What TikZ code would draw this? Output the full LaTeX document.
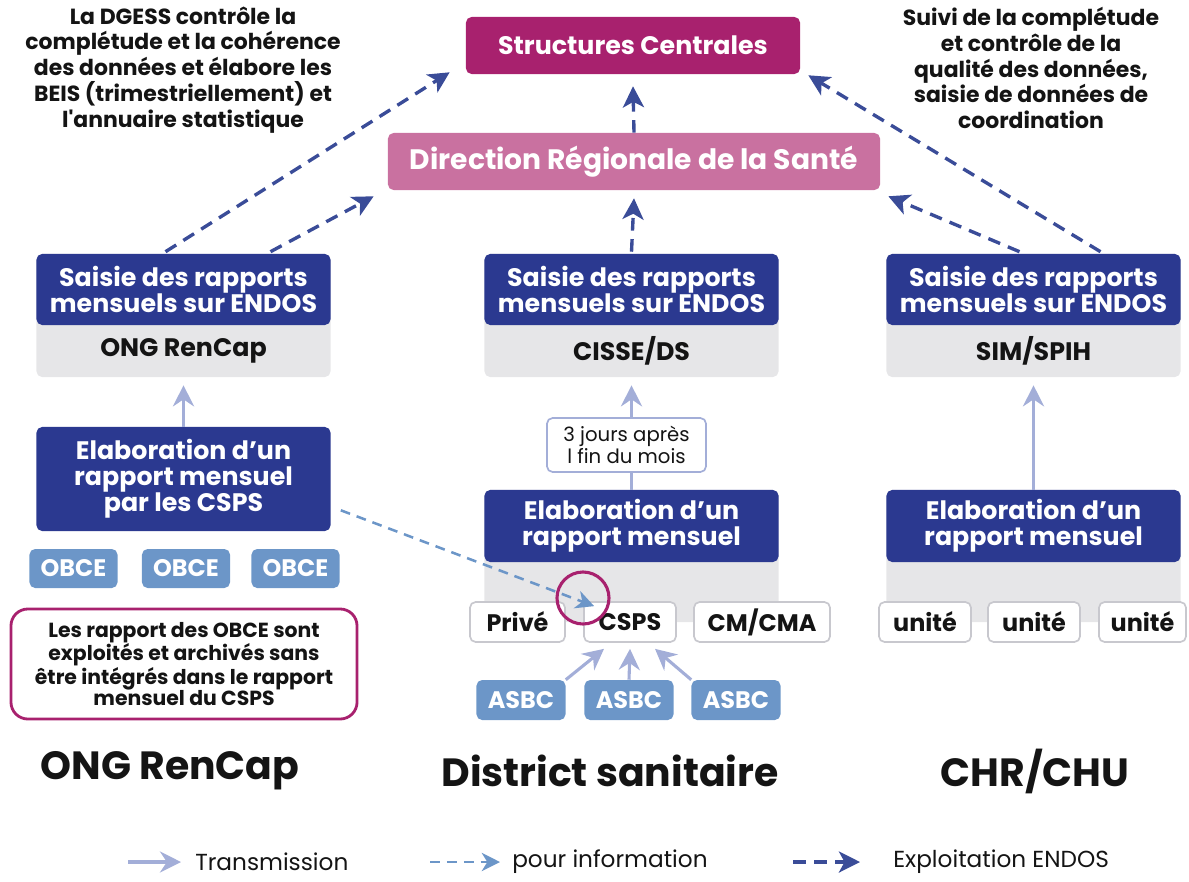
\documentclass[tikz,border=0pt]{standalone}
\usepackage{fontspec}
\setmainfont{Poppins}
\usetikzlibrary{arrows.meta,calc,positioning}
\definecolor{navy}{RGB}{43, 57, 144}
\definecolor{plum}{RGB}{168, 33, 110}
\definecolor{rose}{RGB}{201, 113, 160}
\definecolor{shade}{RGB}{230, 230, 232}
\definecolor{steel}{RGB}{108, 150, 200}
\definecolor{lavender}{RGB}{163, 174, 216}
\definecolor{slate}{RGB}{58, 76, 152}
\definecolor{rim}{RGB}{200, 200, 206}
\definecolor{ink}{RGB}{20, 20, 20}

\begin{document}
\begin{tikzpicture}[
        x=0.025cm, y=-0.025cm,
        every node/.style={font=\fontsize{18}{18.5}\selectfont\bfseries, text=ink, align=center, inner sep=0pt, rounded corners=4pt},
        central/.style={fill=plum, text=white, minimum width=8.35cm, minimum height=1.425cm},
        regional/.style={fill=rose, text=white, minimum width=12.3cm, minimum height=1.425cm, font=\fontsize{20}{22}\selectfont\bfseries},
        shade box/.style={fill=shade, minimum width=7.35cm},
        navy box/.style={fill=navy, text=white, minimum width=7.35cm, anchor=north},
        agent/.style={fill=steel, text=white, minimum width=2.225cm, minimum height=1cm, font=\fontsize{17}{18}\selectfont\bfseries},
        unit/.style={fill=white, draw=rim, line width=1.2pt, minimum height=1cm, font=\fontsize{17}{18}\selectfont\bfseries},
        delay/.style={fill=white, draw=lavender, line width=1.2pt, minimum width=3.975cm, minimum height=1.35cm, font=\fontsize{14}{15.5}\selectfont},
        comment/.style={font=\fontsize{15.6}{18.4}\selectfont\bfseries},
        remark/.style={fill=white, draw=plum, line width=2pt, rounded corners=12pt, minimum width=8.65cm, minimum height=2.75cm, font=\fontsize{14.5}{15}\selectfont\bfseries},
        title/.style={font=\fontsize{28}{32}\selectfont\bfseries},
        legend/.style={font=\fontsize{16.5}{20}\selectfont, anchor=west},
        transmission/.style={-{Stealth[length=15pt,width=15pt,inset=5pt]}, lavender, line width=2.2pt},
        information/.style={-{Stealth[length=13pt,width=13pt,inset=4pt]}, steel, line width=1.8pt, dash pattern=on 7pt off 5pt},
        endos/.style={-{Stealth[length=15pt,width=15pt,inset=4pt]}, slate, line width=2.4pt, dash pattern=on 9pt off 6pt}
    ]
    \useasboundingbox (0,0) rectangle (1189,881);

    \node[central] (sc) at (633,45.5) {Structures Centrales};
    \node[regional] (drs) at (634,161.5) {Direction Régionale de la Santé};

    \node[comment] (dgess) at (183,70) {La DGESS contrôle la\\complétude et la cohérence\\des données et élabore les\\BEIS (trimestriellement) et\\l\textquotesingle annuaire statistique};
    \node[comment] (suivi) at (1031,68) {Suivi de la complétude\\et contrôle de la\\qualité des données,\\saisie de données de\\coordination};

    \node[shade box, minimum height=3.075cm] (ongbg) at (183.5,315.5) {};
    \node[navy box, minimum height=1.775cm] (ongsaisie) at (ongbg.north) {Saisie des rapports\\mensuels sur ENDOS};
    \node (ongname) at (183.5,351) {ONG RenCap};

    \node[shade box, minimum height=3.075cm] (cissebg) at (631.5,315.5) {};
    \node[navy box, minimum height=1.775cm] (cissesaisie) at (cissebg.north) {Saisie des rapports\\mensuels sur ENDOS};
    \node (cissename) at (631.5,351) {CISSE/DS};

    \node[shade box, minimum height=3.075cm] (simbg) at (1033.5,315.5) {};
    \node[navy box, minimum height=1.775cm] (simsaisie) at (simbg.north) {Saisie des rapports\\mensuels sur ENDOS};
    \node (simname) at (1033.5,351) {SIM/SPIH};

    \node[fill=navy, text=white, minimum width=7.35cm, minimum height=2.6cm] (ongelab) at (183.5,479) {Elaboration d’un\\rapport mensuel\\par les CSPS};
    \node[agent, minimum width=2.2cm, minimum height=0.975cm] (obceA) at (73.5,568.5) {OBCE};
    \node[agent, minimum width=2.2cm, minimum height=0.975cm] (obceB) at (186,568.5) {OBCE};
    \node[agent, minimum width=2.2cm, minimum height=0.975cm] (obceC) at (295.5,568.5) {OBCE};
    \node[remark] (obcenote) at (184,664) {Les rapport des OBCE sont\\exploités et archivés sans\\être intégrés dans le rapport\\mensuel du CSPS};

    \node[shade box, minimum height=3.3cm] (dsbg) at (631.5,556) {};
    \node[navy box, minimum height=1.8cm] (dselab) at (dsbg.north) {Elaboration d’un\\rapport mensuel};
    \node[unit, minimum width=2.375cm] (prive) at (517.5,622) {Privé};
    \node[unit, minimum width=2.3cm] (csps) at (630,622) {CSPS};
    \node[unit, minimum width=3.4cm] (cma) at (762,622) {CM/CMA};
    \node[agent] (asbcA) at (521,700) {ASBC};
    \node[agent] (asbcB) at (629,700) {ASBC};
    \node[agent] (asbcC) at (736,700) {ASBC};
    \node[draw=plum, line width=2.2pt, circle, minimum size=1.3cm] (focus) at (583,598) {};

    \node[shade box, minimum height=3.3cm] (chrbg) at (1033.5,556) {};
    \node[navy box, minimum height=1.8cm] (chrelab) at (chrbg.north) {Elaboration d’un\\rapport mensuel};
    \node[unit, minimum width=2.3cm] (uniteA) at (925,622) {unité};
    \node[unit, minimum width=2.3cm] (uniteB) at (1034,622) {unité};
    \node[unit, minimum width=2.175cm] (uniteC) at (1142.5,622) {unité};

    \node[title] (ongtitle) at (170,771) {ONG RenCap};
    \node[title] (dstitle) at (610,771) {District sanitaire};
    \node[title] (chrtitle) at (1035,771) {CHR/CHU};

    \draw[endos] ($(ongsaisie.north)+(-18,-2)$) -- ($(sc.south west)+(-16,-2)$);
    \draw[endos] ($(ongsaisie.north)+(87,-2)$) -- ($(drs.south west)+(-14,6)$);
    \draw[endos] ($(cissesaisie.north)+(0,-2)$) -- ($(drs.south)+(0,8)$);
    \draw[endos] (drs.north) -- ($(sc.south)+(0,12)$);
    \draw[endos] ($(simsaisie.north)+(67,-2)$) -- ($(sc.south east)+(8,1)$);
    \draw[endos] ($(simsaisie.north)+(-14,-2)$) -- ($(drs.south east)+(8,6)$);

    \draw[transmission] (ongelab.north) -- ($(ongbg.south)+(0,8)$);
    \draw[transmission] (dselab.north) -- ($(cissebg.south)+(0,8)$);
    \draw[transmission] (chrelab.north) -- ($(simbg.south)+(0,8)$);
    \node[delay] (delai) at (626.5,445) {3 jours après\\l fin du mois};
    \draw[transmission] (asbcA.north east) -- ($(csps.south)+(-26,6)$);
    \draw[transmission] (asbcB.north) -- ($(csps.south)+(0,6)$);
    \draw[transmission] (asbcC.north west) -- ($(csps.south)+(25,6)$);

    \draw[information] ($(ongelab.south east)+(10,-21)$) -- ($(csps.north west)+(11,5)$);

    \coordinate (lgTs) at (128,862);
    \node[legend] (lgT) at (195,862) {Transmission};
    \coordinate (lgIs) at (430,862);
    \node[legend] (lgI) at (512,862) {pour information};
    \coordinate (lgEs) at (793,862);
    \node[legend] (lgE) at (893,862) {Exploitation ENDOS};
    \draw[transmission] (lgTs) -- ($(lgT.west)+(-14,0)$);
    \draw[information] (lgIs) -- ($(lgI.west)+(-12,0)$);
    \draw[endos] (lgEs) -- ($(lgE.west)+(-33,0)$);
\end{tikzpicture}
\end{document}
